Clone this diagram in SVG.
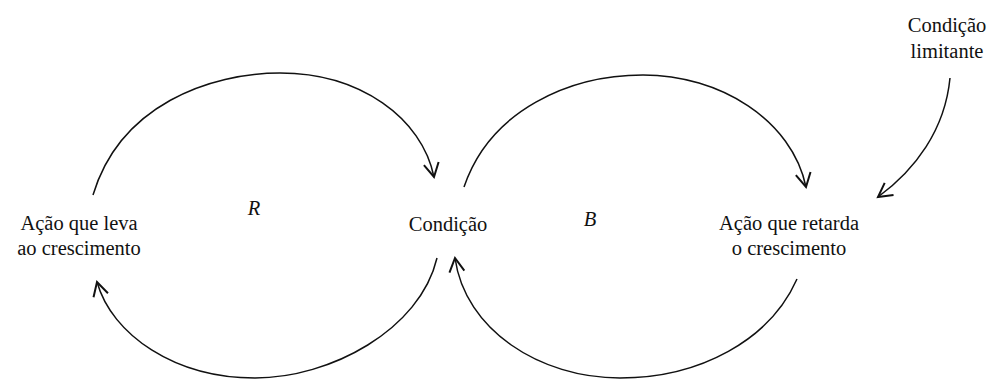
<svg xmlns="http://www.w3.org/2000/svg" width="993" height="379" viewBox="0 0 993 379">
<style>
text{font-family:"Liberation Serif","Times New Roman",serif;font-size:20.5px;fill:#111;text-anchor:middle}
.i{font-style:italic}
.c{fill:none;stroke:#111;stroke-width:1.5}
</style>
<defs>
<marker id="ah" markerUnits="userSpaceOnUse" markerWidth="20" markerHeight="20" viewBox="-12 -8 14 16" refX="0" refY="0" orient="auto">
<path d="M-11,-6 L0,0 L-11,6" fill="none" stroke="#111" stroke-width="1.6"/>
</marker>
</defs>
<rect width="993" height="379" fill="#fff"/>
<g id="connectors">
<path class="c" d="M93,195 C120,105 210,73 280,73 C360,73 422,118 434,177" marker-end="url(#ah)"/>
<path class="c" d="M464,187 C490,110 570,75 643,75 C720,75 792,120 806,187" marker-end="url(#ah)"/>
<path class="c" d="M437,258 C420,330 330,378 255,378 C175,378 112,335 97,282" marker-end="url(#ah)"/>
<path class="c" d="M797,279 C770,340 700,378 620,378 C540,378 465,330 455,258" marker-end="url(#ah)"/>
<path class="c" d="M950,78 C945,130 915,170 878,197" marker-end="url(#ah)"/>
</g>
<g id="acao-crescimento">
<text x="79" y="230">Ação que leva</text>
<text x="79" y="255">ao crescimento</text>
</g>
<g id="condicao">
<text x="448" y="231">Condição</text>
</g>
<g id="acao-retarda">
<text x="789" y="230">Ação que retarda</text>
<text x="789" y="255">o crescimento</text>
</g>
<g id="condicao-limitante">
<text x="947" y="32">Condição</text>
<text x="947" y="58">limitante</text>
</g>
<g id="loop-r"><text class="i" x="254" y="215">R</text></g>
<g id="loop-b"><text class="i" x="590" y="226">B</text></g>
</svg>
